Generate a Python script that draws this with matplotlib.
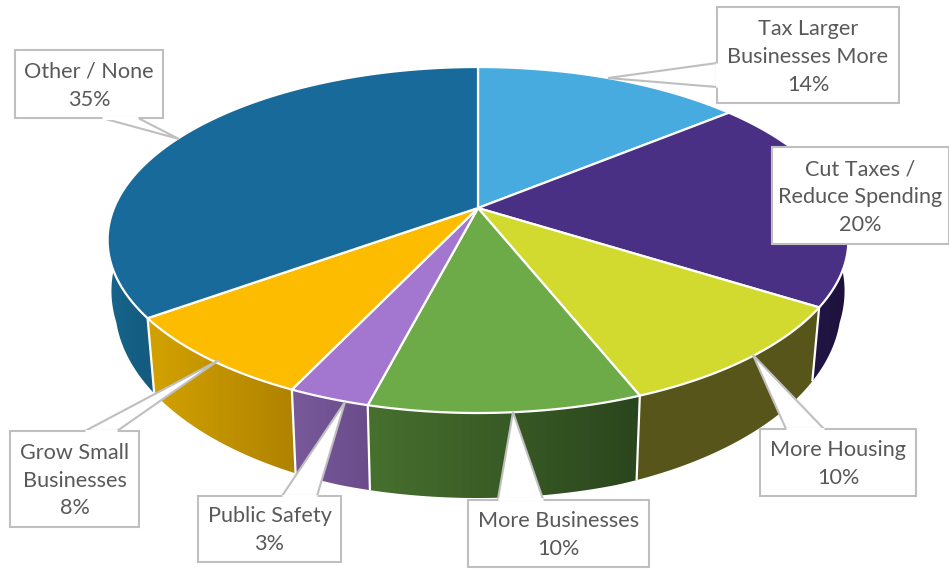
import numpy as np
import matplotlib
matplotlib.use("Agg")
import matplotlib.pyplot as plt
from matplotlib.colors import to_rgb
from matplotlib.patches import Polygon

# Survey shares, clockwise from twelve o'clock
categories = ["Tax Larger\nBusinesses More", "Cut Taxes /\nReduce Spending", "More Housing",
              "More Businesses", "Public Safety", "Grow Small\nBusinesses", "Other / None"]
shares = [14, 20, 10, 10, 3, 8, 35]

top_colors = ["#47ABDF", "#4A3085", "#D3DA2F", "#6DAB48", "#A377CF", "#FDBC00", "#176A99"]
wall_left = ["#2F7EA8", "#221546", "#57551A", "#47702E", "#785A9B", "#D3A200", "#17648B"]
wall_right = ["#2F7EA8", "#1C113A", "#57551A", "#2A451D", "#6A4C8B", "#AF8200", "#135A7E"]

# Label boxes: left, top, right, bottom, then the callout base and tip
boxes = [(717, 7, 899, 103), (772, 147, 949, 244), (760, 429, 916, 496),
         (468, 500, 649, 567), (198, 496, 341, 562), (10, 431, 139, 527), (15, 50, 163, 118)]
callouts = [((717, 63), (717, 87), (608, 78)), None, ((786, 429), (824, 429), (753, 355)),
            ((498, 499), (543, 499), (513, 412)), ((282, 496), (317, 496), (345, 402)),
            ((85, 431), (117, 431), (219, 360)), ((102, 118), (138, 118), (179, 139))]

TEXT = "#595959"
CALLOUT_EDGE = "#BFBFBF"

# Perspective of the pie's top face
CX, CY, RX, RY_B, PERSP = 478.0, 208.0, 364.0, -128.6, 0.185
WALL_SCALE = 0.98


def rim(theta):
    """Screen position of the top rim at clockwise angle theta (radians)."""
    u, v = np.sin(theta), np.cos(theta)
    w = 1 + PERSP * v
    return CX + RX * u / w, (CY + RY_B * v) / w


def base(x, y):
    """Screen position of the lower wall edge beneath a rim point."""
    depth = 85 - np.maximum(400 - y, 0) * 0.12
    scale = WALL_SCALE + (1 - WALL_SCALE) * np.clip((255 - y) / 45, 0, 1)
    return CX + (x - CX) * scale, y + depth


fig = plt.figure(figsize=(9.49, 5.69), dpi=100)
ax = fig.add_axes([0, 0, 1, 1])
ax.axis("off")

edges = 2 * np.pi * np.concatenate([[0], np.cumsum(shares)]) / sum(shares)
FRONT_FROM, FRONT_TO = np.radians(75), np.radians(285)

# Outer wall: a horizontal gradient clipped to each slice's wall outline
for i in range(len(shares)):
    a, b = max(edges[i], FRONT_FROM), min(edges[i + 1], FRONT_TO)
    if a >= b:
        continue
    th = np.linspace(a, b, 160)
    xt, yt = rim(th)
    xb, yb = base(xt, yt)
    outline = np.vstack([np.column_stack([xt, yt]), np.column_stack([xb, yb])[::-1]])
    lo, hi = outline[:, 0].min(), outline[:, 0].max()
    cl, cr = np.array(to_rgb(wall_left[i])), np.array(to_rgb(wall_right[i]))
    ramp = np.linspace(0, 1, 256)[None, :, None]
    gradient = cl + (cr - cl) * ramp
    img = ax.imshow(gradient, extent=(lo, hi, outline[:, 1].max(), outline[:, 1].min()),
                    aspect="auto", interpolation="bilinear", zorder=2)
    clip = Polygon(outline, closed=True, transform=ax.transData, facecolor="none", edgecolor="none")
    ax.add_patch(clip)
    img.set_clip_path(clip)

ax.set_xlim(0, 949)
ax.set_ylim(569, 0)

# White seams running down the wall at slice boundaries
for e in edges:
    if FRONT_FROM < e < FRONT_TO:
        x0, y0 = rim(e)
        x1, y1 = base(x0, y0)
        ax.plot([x0, x1], [y0, y1], color="white", lw=1.6, zorder=3, solid_capstyle="butt")

# Top face of each slice
for i in range(len(shares)):
    th = np.linspace(edges[i], edges[i + 1], 200)
    xt, yt = rim(th)
    pts = np.vstack([[CX, CY], np.column_stack([xt, yt])])
    ax.add_patch(Polygon(pts, closed=True, facecolor=top_colors[i], edgecolor="white",
                         lw=1.6, joinstyle="round", zorder=4))

# Label boxes with their callout pointers
for name, share, box, call in zip(categories, shares, boxes, callouts):
    l, t, r, btm = box
    if call is not None:
        ax.add_patch(Polygon(call, closed=True, facecolor="white", edgecolor=CALLOUT_EDGE,
                             lw=1.5, joinstyle="miter", zorder=5))
    ax.add_patch(Polygon([(l, t), (r, t), (r, btm), (l, btm)], closed=True, facecolor="white",
                         edgecolor=CALLOUT_EDGE, lw=1.5, zorder=6))
    if call is not None:
        # hide the pointer's base line so box and pointer read as one outline
        ax.plot([call[0][0], call[1][0]], [call[0][1], call[1][1]], color="white", lw=2.2, zorder=7,
                solid_capstyle="butt")
    ax.text((l + r) / 2, (t + btm) / 2 + 1.5, f"{name}\n{share}%", ha="center", va="center",
            family="Lato", fontsize=15.6, color=TEXT, linespacing=1.5, zorder=8)

fig.savefig("out.png", dpi=100, facecolor="white")
